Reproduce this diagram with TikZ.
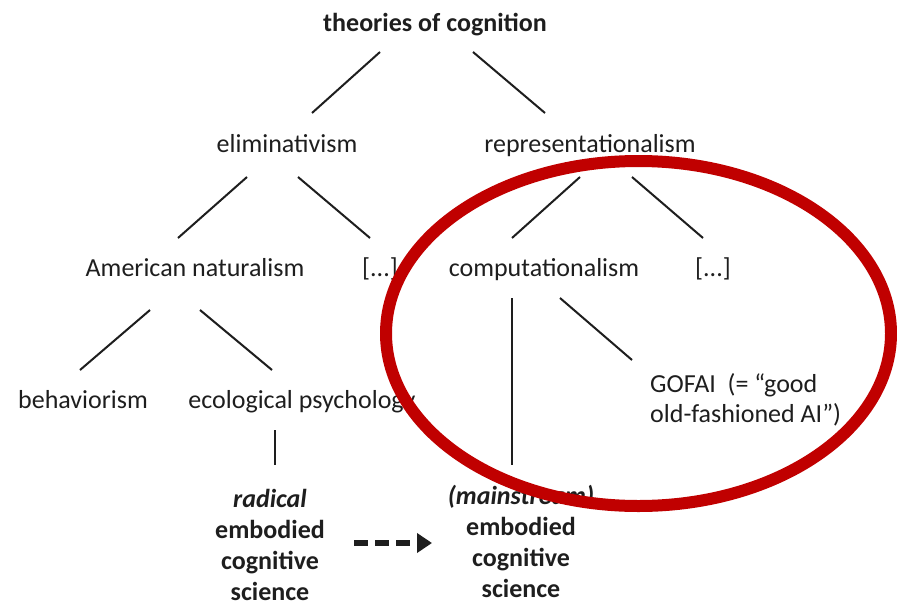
\documentclass[tikz,border=0pt]{standalone}
\usepackage{fontspec}
\setmainfont{Carlito}
\usetikzlibrary{arrows.meta}
\definecolor{ink}{HTML}{1E1E1E}
\definecolor{ringred}{RGB}{192,0,0}
\begin{document}
\begin{tikzpicture}[x=1pt,y=-1pt,
  lbl/.style={inner sep=0pt, text=ink, font=\fontsize{26}{31}\selectfont, anchor=base},
  stack/.style={inner sep=0pt, text=ink, font=\fontsize{26}{31}\selectfont\bfseries, align=center, anchor=north},
  branch/.style={draw=ink, line width=2pt},
  moveto/.style={draw=ink, line width=6pt, dash pattern=on 14pt off 7pt,
    -{Triangle[length=15pt,width=19pt]}},
  ring/.style={draw=ringred, line width=12pt}]
\useasboundingbox (0,0) rectangle (897,605);

% tree labels
\node[lbl] (root) at (435,31) {\textbf{theories of cognition}};
\node[lbl] (elim) at (287,152) {eliminativism};
\node[lbl] (repr) at (590,152) {representationalism};
\node[lbl] (amnat) at (195,276) {American naturalism};
\node[lbl] (etcA) at (380,276) {[...]};
\node[lbl] (comp) at (544,276) {computationalism};
\node[lbl] (etcB) at (713,276) {[...]};
\node[lbl] (behav) at (83,408) {behaviorism};
\node[lbl] (ecol) at (302,408) {ecological psychology};
\node[lbl, font=\fontsize{26}{30}\selectfont, align=left, anchor=north west] (gofai) at (650,373)
  {GOFAI\ \ (= “good\\old-fashioned AI”)};
\node[stack] (radical) at (270,489) {\textit{radical}\\embodied\\cognitive\\science};
\node[stack] (mainstr) at (521,485) {\textit{(mainstream)}\\embodied\\cognitive\\science};

% connector end points
\coordinate (r1) at (380,52);  \coordinate (e1) at (312,113);
\coordinate (r2) at (473,52);  \coordinate (p1) at (545,113);
\coordinate (e2) at (247,177); \coordinate (a1) at (178,238);
\coordinate (e3) at (298,177); \coordinate (x1) at (370,238);
\coordinate (p2) at (580,177); \coordinate (c1) at (512,238);
\coordinate (p3) at (632,177); \coordinate (x2) at (703,238);
\coordinate (a2) at (150,310); \coordinate (b1) at (80,370);
\coordinate (a3) at (200,310); \coordinate (g1) at (272,370);
\coordinate (c2) at (512,298); \coordinate (m1) at (512,465);
\coordinate (c3) at (560,298); \coordinate (f1) at (632,360);
\coordinate (g2) at (275,430); \coordinate (d1) at (275,465);
\coordinate (arrS) at (354,543); \coordinate (arrE) at (432,543);

% branches
\draw[branch] (r1) -- (e1);
\draw[branch] (r2) -- (p1);
\draw[branch] (e2) -- (a1);
\draw[branch] (e3) -- (x1);
\draw[branch] (p2) -- (c1);
\draw[branch] (p3) -- (x2);
\draw[branch] (a2) -- (b1);
\draw[branch] (a3) -- (g1);
\draw[branch] (c2) -- (m1);
\draw[branch] (c3) -- (f1);
\draw[branch] (g2) -- (d1);

% shift from radical to mainstream
\draw[moveto] (arrS) -- (arrE);

% highlight ring
\draw[ring] (638.5,333.5) ellipse [x radius=252.5, y radius=172.5];
\end{tikzpicture}
\end{document}
